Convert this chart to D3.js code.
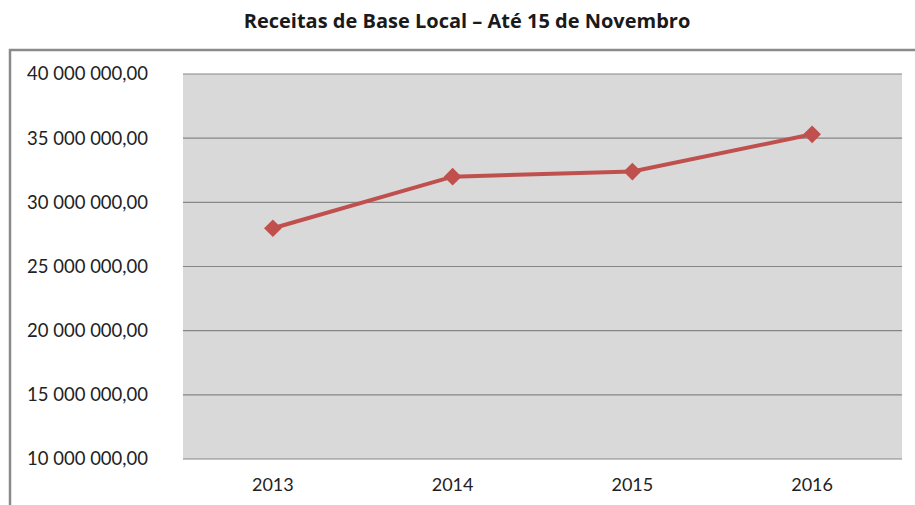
<!DOCTYPE html>
<html lang="pt">
  <head>
    <meta charset="utf-8">
    <title>Receitas de Base Local</title>
    <script src="https://cdnjs.cloudflare.com/ajax/libs/d3/7.8.5/d3.min.js"></script>
    <style type="text/css">
    body { margin: 0; background: #fff; }
    </style>
  </head>
  <body>
    <script type="text/javascript">
    // data
    var years = ["2013", "2014", "2015", "2016"];
    var receitas = [27980000, 32000000, 32400000, 35300000];
    var yTicks = [10000000, 15000000, 20000000, 25000000, 30000000, 35000000, 40000000];

    var w = 915, h = 505;
    // plot area (window.top is read-only, so no "top" here)
    var plotL = 183, plotR = 902, plotT = 74, plotB = 459;

    var svg = d3.select("body").append("svg")
      .attr("width", w)
      .attr("height", h);

    // outer frame (runs off the right and bottom edge)
    svg.append("rect")
      .attr("x", 10).attr("y", 50)
      .attr("width", 930).attr("height", 480)
      .attr("fill", "none")
      .attr("stroke", "#8a8a8a")
      .attr("stroke-width", 2.5);

    svg.append("text")
      .attr("x", 467).attr("y", 28)
      .attr("text-anchor", "middle")
      .attr("font-family", "Open Sans")
      .attr("font-weight", "bold")
      .attr("font-size", "20px")
      .attr("fill", "#1a1a1a")
      .text("Receitas de Base Local \u2013 At\u00e9 15 de Novembro");

    var x = d3.scalePoint().domain(years).range([plotL, plotR]).padding(0.5);
    var y = d3.scaleLinear().domain([10000000, 40000000]).range([plotB, plotT]);

    svg.append("rect")
      .attr("x", plotL).attr("y", plotT)
      .attr("width", plotR - plotL).attr("height", plotB - plotT)
      .attr("fill", "#d9d9da");

    // gridlines
    svg.selectAll("line.grid")
      .data(yTicks)
      .enter().append("line")
      .attr("class", "grid")
      .attr("x1", plotL).attr("x2", plotR)
      .attr("y1", function(d) { return y(d); })
      .attr("y2", function(d) { return y(d); })
      .attr("stroke", "#868686")
      .attr("stroke-width", 1.2);

    var fmt = function(d) {
      return d3.format(",.2f")(d).replace(/,/g, " ").replace(".", ",");
    };

    svg.selectAll("text.ylab")
      .data(yTicks)
      .enter().append("text")
      .attr("class", "ylab")
      .attr("x", 148)
      .attr("y", function(d) { return y(d); })
      .attr("dy", "0.35em")
      .attr("text-anchor", "end")
      .attr("font-family", "Lato")
      .attr("font-size", "18.5px")
      .attr("fill", "#222")
      .text(fmt);

    svg.selectAll("text.xlab")
      .data(years)
      .enter().append("text")
      .attr("class", "xlab")
      .attr("x", function(d) { return x(d); })
      .attr("y", 491)
      .attr("text-anchor", "middle")
      .attr("font-family", "Lato")
      .attr("font-size", "18px")
      .attr("fill", "#222")
      .text(function(d) { return d; });

    var line = d3.line()
      .x(function(d, i) { return x(years[i]); })
      .y(function(d) { return y(d); });

    svg.append("path")
      .datum(receitas)
      .attr("d", line)
      .attr("fill", "none")
      .attr("stroke", "#c0504d")
      .attr("stroke-width", 4);

    svg.selectAll("path.mark")
      .data(receitas)
      .enter().append("path")
      .attr("class", "mark")
      .attr("d", d3.symbol().type(d3.symbolDiamond2).size(200))
      .attr("transform", function(d, i) {
        return "translate(" + x(years[i]) + "," + y(d) + ")";
      })
      .attr("fill", "#c0504d");
    </script>
  </body>
</html>
